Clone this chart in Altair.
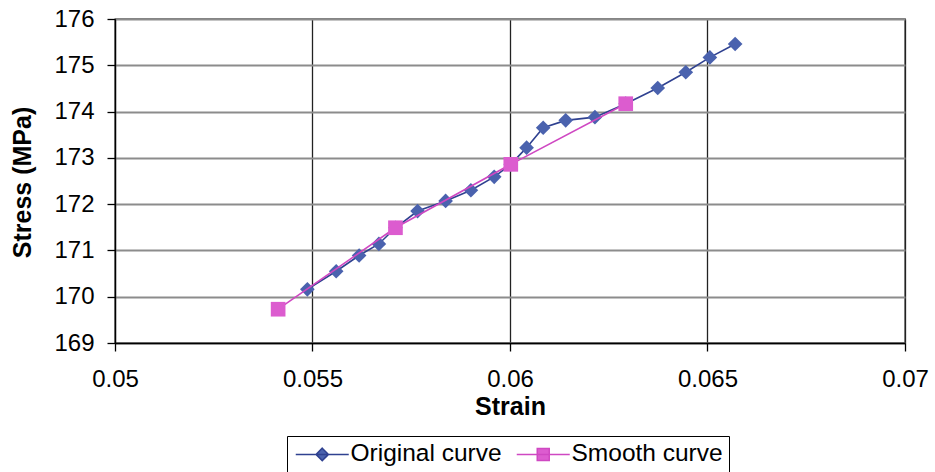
import altair as alt
import pandas as pd

# Original stress-strain readings
orig_strain = [0.05487, 0.05560, 0.05618, 0.05668, 0.05710, 0.05766, 0.05837, 0.05901,
               0.05960, 0.06002, 0.06042, 0.06084, 0.06141, 0.06215, 0.06293, 0.06374,
               0.06445, 0.06506, 0.06570]
orig_stress = [170.16, 170.55, 170.89, 171.14, 171.49, 171.85, 172.07, 172.30,
               172.59, 172.86, 173.22, 173.65, 173.81, 173.88, 174.17, 174.51,
               174.85, 175.17, 175.46]

# Smoothed curve
smooth_strain = [0.05413, 0.05710, 0.06002, 0.06293]
smooth_stress = [169.73, 171.49, 172.86, 174.17]

series_names = ["Original curve", "Smooth curve"]
point_colors = ["#4a62ae", "#dc5ccf"]
line_colors = ["#2f4190", "#cf48c2"]

x_ticks = [0.05, 0.055, 0.06, 0.065, 0.07]
y_ticks = [169, 170, 171, 172, 173, 174, 175, 176]

df = pd.concat([
    pd.DataFrame({"strain": orig_strain, "stress": orig_stress, "series": series_names[0]}),
    pd.DataFrame({"strain": smooth_strain, "stress": smooth_stress, "series": series_names[1]}),
], ignore_index=True)

FONT = "Liberation Sans"

x_enc = alt.X(
    "strain:Q",
    scale=alt.Scale(domain=[0.05, 0.07], nice=False, zero=False),
    axis=alt.Axis(
        values=x_ticks, format="~g", title="Strain",
        grid=True, gridColor="#222222", gridWidth=1.3,
        domainColor="black", domainWidth=1.3,
        tickColor="black", tickSize=8, tickWidth=1.3,
        labelFont=FONT, labelFontSize=24, labelColor="black", labelPadding=16,
        labelFlush=False,
        titleFont=FONT, titleFontSize=25, titleFontWeight="bold", titleColor="black",
        titleBaseline="alphabetic", titleY=71,
    ),
)
y_enc = alt.Y(
    "stress:Q",
    scale=alt.Scale(domain=[169, 176], nice=False, zero=False),
    axis=alt.Axis(
        values=y_ticks, format="d", title="Stress (MPa)",
        grid=True, gridColor="#8c8c8c", gridWidth=1.8,
        domainColor="black", domainWidth=1.3,
        tickColor="black", tickSize=8, tickWidth=1.3,
        labelFont=FONT, labelFontSize=24, labelColor="black", labelPadding=13,
        titleFont=FONT, titleFontSize=25, titleFontWeight="bold", titleColor="black",
        titleAngle=-90, titleBaseline="alphabetic", titleAlign="center",
        titleX=-85, titleY=163,
    ),
)

base = alt.Chart(df)


def series_filter(i):
    return alt.datum.series == series_names[i]


orig_line = base.transform_filter(series_filter(0)).mark_line(
    color=line_colors[0], strokeWidth=1.6
).encode(x=x_enc, y=y_enc, order="strain:Q")
orig_pts = base.transform_filter(series_filter(0)).mark_point(
    shape="diamond", filled=True, size=215, color=point_colors[0], opacity=1
).encode(x=x_enc, y=y_enc)

smooth_line = base.transform_filter(series_filter(1)).mark_line(
    color=line_colors[1], strokeWidth=1.6
).encode(x=x_enc, y=y_enc, order="strain:Q")
smooth_pts = base.transform_filter(series_filter(1)).mark_point(
    shape="square", filled=True, size=215, color=point_colors[1], opacity=1
).encode(x=x_enc, y=y_enc)

# Legend glyphs: a line with the series marker on it
legend_shapes = [
    "M-2.65,0H2.65M0,-0.62L0.62,0L0,0.62L-0.62,0Z",
    "M-2.65,0H2.65M-0.6,-0.6H0.6V0.6H-0.6Z",
]

legend_props = dict(
    title=None, orient="none", legendX=172, legendY=417,
    direction="horizontal",
    symbolSize=400, symbolOffset=17, labelOffset=16,
    symbolStrokeWidth=1.5, symbolOpacity=1,
    labelFont=FONT, labelFontSize=24.5, labelColor="black",
    columnPadding=11, padding=6,
    strokeColor="black", fillColor="white",
)

# Legend-only layer: its data is filtered away, the scales keep the entries
legend_layer = base.transform_filter(alt.datum.strain < 0).mark_point(
    filled=True, strokeWidth=1.5
).encode(
    x=x_enc,
    y=y_enc,
    color=alt.Color("series:N", scale=alt.Scale(domain=series_names, range=point_colors),
                    legend=alt.Legend(**legend_props)),
    stroke=alt.Stroke("series:N", scale=alt.Scale(domain=series_names, range=line_colors),
                      legend=alt.Legend(**legend_props)),
    shape=alt.Shape("series:N", scale=alt.Scale(domain=series_names, range=legend_shapes),
                    legend=alt.Legend(**legend_props)),
)

chart = alt.layer(orig_line, orig_pts, smooth_line, smooth_pts, legend_layer).properties(
    width=790,
    height=324,
    autosize=alt.AutoSizeParams(type="none"),
    padding={"left": 115, "top": 19, "right": 30, "bottom": 129},
    background="white",
).configure_view(stroke="black", strokeWidth=1.3)

chart.save("out.html", embed_options={"renderer": "svg", "actions": False})
